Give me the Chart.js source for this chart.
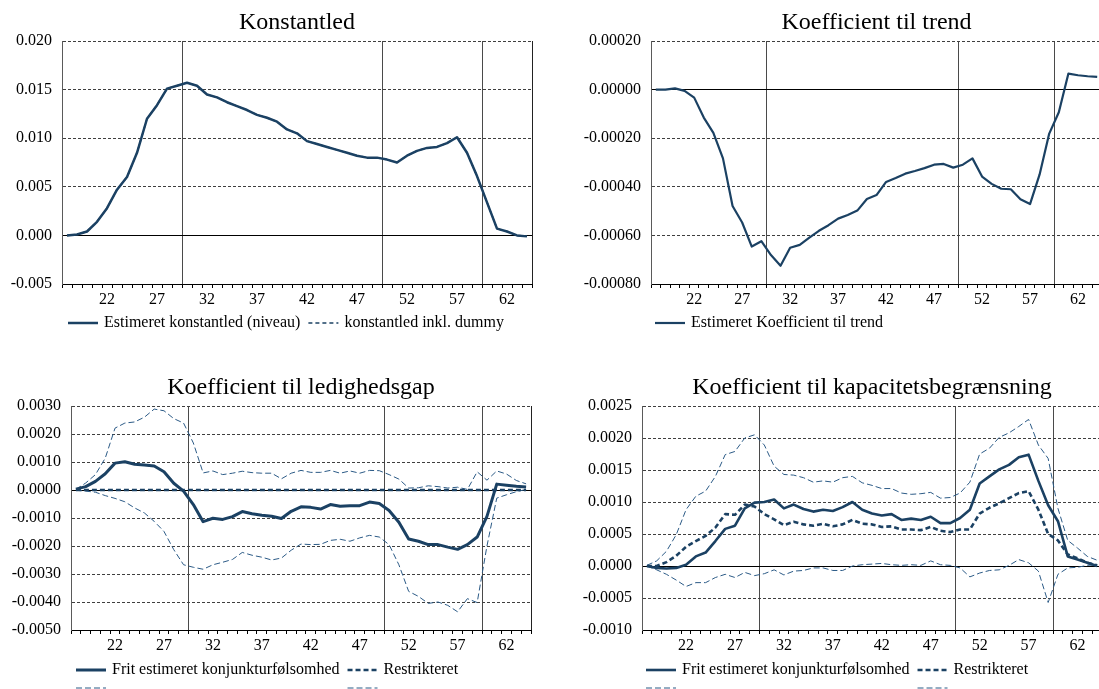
<!DOCTYPE html>
<html lang="da">
<head>
<meta charset="utf-8">
<title>Konstantled og koefficienter</title>
<script src="https://cdn.jsdelivr.net/npm/chart.js@4.4.1/dist/chart.umd.min.js"></script>
<style>
  html, body { margin: 0; padding: 0; background: #fff; overflow: hidden; width: 1099px; height: 689px; }
  canvas { position: absolute; display: block; }
</style>
</head>
<body>
<canvas id="pKonstant" width="549" height="345" style="left:0;top:0"></canvas>
<canvas id="pTrend" width="560" height="345" style="left:549px;top:0"></canvas>
<canvas id="pLedig" width="549" height="360" style="left:0;top:345px"></canvas>
<canvas id="pKapacitet" width="560" height="360" style="left:549px;top:345px"></canvas>
<script>
// ---- x-axis categories and labels ----
const categories = [18, 19, 20, 21, 22, 23, 24, 25, 26, 27, 28, 29, 30, 31, 32, 33, 34, 35, 36, 37,
  38, 39, 40, 41, 42, 43, 44, 45, 46, 47, 48, 49, 50, 51, 52, 53, 54, 55, 56, 57,
  58, 59, 60, 61, 62, 63, 64];
const xTickLabels = [22, 27, 32, 37, 42, 47, 52, 57, 62];
// vertical separators are drawn just before these categories
const breakYears = [30, 50, 60];

// ---- y-axis tick values ----
const yTicksKonstant = [-0.005, 0, 0.005, 0.010, 0.015, 0.020];
const yTicksTrend = [-0.0008, -0.0006, -0.0004, -0.0002, 0, 0.0002];
const yTicksLedig = [-0.005, -0.004, -0.003, -0.002, -0.001, 0, 0.001, 0.002, 0.003];
const yTicksKapacitet = [-0.001, -0.0005, 0, 0.0005, 0.001, 0.0015, 0.002, 0.0025];

// ---- Konstantled ----
const konstantledNiveau = [0.0000, 0.0001, 0.0004, 0.0014, 0.0028, 0.0047, 0.0060, 0.0085, 0.0120, 0.0134,
  0.0151, 0.0154, 0.0157, 0.0154, 0.0145, 0.0142, 0.0137, 0.0133, 0.0129, 0.0124,
  0.0121, 0.0117, 0.0109, 0.0105, 0.0097, 0.0094, 0.0091, 0.0088, 0.0085, 0.0082,
  0.0080, 0.0080, 0.0078, 0.0075, 0.0082, 0.0087, 0.0090, 0.0091, 0.0095, 0.0101,
  0.0085, 0.0061, 0.0034, 0.0007, 0.0004, 0.0000, -0.0001];
const konstantledDummy = [0.0000, 0.0001, 0.0004, 0.0014, 0.0028, 0.0047, 0.0060, 0.0085, 0.0120, 0.0134,
  0.0151, 0.0154, 0.0157, 0.0154, 0.0145, 0.0142, 0.0137, 0.0133, 0.0129, 0.0124,
  0.0121, 0.0117, 0.0109, 0.0105, 0.0097, 0.0094, 0.0091, 0.0088, 0.0085, 0.0082,
  0.0080, 0.0080, 0.0078, 0.0075, 0.0082, 0.0087, 0.0090, 0.0091, 0.0095, 0.0101,
  0.0085, 0.0061, 0.0034, 0.0007, 0.0004, 0.0000, -0.0001];

// ---- Koefficient til trend ----
const trendKoef = [0.000000, 0.000000, 0.000005, -0.000005, -0.000033, -0.000115, -0.000178, -0.000283, -0.000479, -0.000547,
  -0.000646, -0.000624, -0.000681, -0.000725, -0.000651, -0.000639, -0.000609, -0.000581, -0.000558, -0.000531,
  -0.000516, -0.000498, -0.000450, -0.000434, -0.000380, -0.000364, -0.000346, -0.000335, -0.000323, -0.000309,
  -0.000306, -0.000321, -0.000309, -0.000283, -0.000358, -0.000388, -0.000408, -0.000410, -0.000451, -0.000471,
  -0.000349, -0.000181, -0.000093, 0.000066, 0.000059, 0.000055, 0.000052];

// ---- Koefficient til ledighedsgap ----
const ledigFri = [0.00003, 0.00012, 0.00031, 0.00058, 0.00096, 0.00101, 0.00092, 0.00089, 0.00086, 0.00065,
  0.00024, -0.00004, -0.00052, -0.00113, -0.00101, -0.00105, -0.00095, -0.00077, -0.00085, -0.00090,
  -0.00094, -0.00102, -0.00076, -0.00060, -0.00062, -0.00068, -0.00052, -0.00058, -0.00056, -0.00056,
  -0.00043, -0.00048, -0.00073, -0.00115, -0.00175, -0.00183, -0.00195, -0.00195, -0.00204, -0.00212,
  -0.00195, -0.00168, -0.00094, 0.00021, 0.00017, 0.00013, 0.00011];
const ledigRestr = [0, 0, 0, 0, 0, 0, 0, 0, 0, 0, 0, 0, 0, 0, 0, 0, 0, 0, 0, 0, 0, 0, 0, 0,
  0, 0, 0, 0, 0, 0, 0, 0, 0, 0, 0, 0, 0, 0, 0, 0, 0, 0, 0, 0, 0, 0, 0];
const ledigOevre = [0.00002, 0.00025, 0.00055, 0.00114, 0.00221, 0.00239, 0.00243, 0.00260, 0.00289, 0.00283,
  0.00255, 0.00239, 0.00168, 0.00061, 0.00068, 0.00055, 0.00060, 0.00067, 0.00062, 0.00060,
  0.00060, 0.00040, 0.00060, 0.00070, 0.00063, 0.00063, 0.00070, 0.00060, 0.00068, 0.00060,
  0.00070, 0.00069, 0.00055, 0.00039, 0.00007, 0.00008, 0.00015, 0.00012, 0.00007, 0.00010,
  0.00002, 0.00065, 0.00035, 0.00068, 0.00057, 0.00034, 0.00022];
const ledigNedre = [-0.00001, -0.00004, -0.00008, -0.00020, -0.00030, -0.00042, -0.00064, -0.00082, -0.00112, -0.00148,
  -0.00213, -0.00267, -0.00276, -0.00283, -0.00267, -0.00258, -0.00248, -0.00223, -0.00233, -0.00240,
  -0.00250, -0.00243, -0.00215, -0.00193, -0.00195, -0.00194, -0.00180, -0.00176, -0.00183, -0.00171,
  -0.00162, -0.00168, -0.00195, -0.00267, -0.00362, -0.00380, -0.00405, -0.00400, -0.00412, -0.00435,
  -0.00388, -0.00402, -0.00200, -0.00029, -0.00017, -0.00006, 0.00002];

// ---- Koefficient til kapacitetsbegrænsning ----
const kapFri = [0.00000, -0.00003, -0.00004, -0.00003, 0.00002, 0.00015, 0.00021, 0.00039, 0.00058, 0.00063,
  0.00090, 0.00099, 0.00100, 0.00104, 0.00090, 0.00096, 0.00089, 0.00085, 0.00088, 0.00086,
  0.00092, 0.00100, 0.00088, 0.00082, 0.00079, 0.00081, 0.00072, 0.00074, 0.00072, 0.00077,
  0.00067, 0.00067, 0.00075, 0.00088, 0.00129, 0.00140, 0.00151, 0.00158, 0.00170, 0.00174,
  0.00133, 0.00095, 0.00070, 0.00015, 0.00010, 0.00005, 0.00000];
const kapRestr = [0.00000, 0.00000, 0.00006, 0.00016, 0.00030, 0.00039, 0.00047, 0.00060, 0.00081, 0.00080,
  0.00096, 0.00093, 0.00081, 0.00073, 0.00064, 0.00069, 0.00065, 0.00063, 0.00066, 0.00062,
  0.00065, 0.00072, 0.00066, 0.00065, 0.00061, 0.00062, 0.00057, 0.00057, 0.00056, 0.00061,
  0.00055, 0.00053, 0.00057, 0.00057, 0.00082, 0.00091, 0.00098, 0.00106, 0.00114, 0.00117,
  0.00088, 0.00050, 0.00040, 0.00018, 0.00012, 0.00005, 0.00001];
const kapOevre = [0.00001, 0.00008, 0.00023, 0.00049, 0.00088, 0.00109, 0.00117, 0.00140, 0.00174, 0.00179,
  0.00200, 0.00205, 0.00189, 0.00156, 0.00143, 0.00142, 0.00138, 0.00131, 0.00133, 0.00131,
  0.00138, 0.00140, 0.00130, 0.00126, 0.00121, 0.00121, 0.00114, 0.00112, 0.00113, 0.00115,
  0.00106, 0.00107, 0.00114, 0.00131, 0.00175, 0.00184, 0.00201, 0.00208, 0.00218, 0.00229,
  0.00189, 0.00168, 0.00090, 0.00040, 0.00028, 0.00015, 0.00009];
const kapNedre = [0.00000, -0.00006, -0.00013, -0.00022, -0.00032, -0.00026, -0.00026, -0.00018, -0.00013, -0.00018,
  -0.00010, -0.00015, -0.00012, -0.00006, -0.00014, -0.00008, -0.00007, -0.00003, -0.00003, -0.00007,
  -0.00007, 0.00000, 0.00002, 0.00003, 0.00004, 0.00002, 0.00001, 0.00002, 0.00001, 0.00008,
  0.00002, 0.00001, -0.00003, -0.00017, -0.00011, -0.00007, -0.00006, 0.00001, 0.00010, 0.00005,
  -0.00008, -0.00057, -0.00013, -0.00003, -0.00002, 0.00001, 0.00002];

// ---- styling ----
const NAVY = '#1b4163';
const BAND = '#2b5a86';
const GRID = '#3f3f3f';
const FONT = '"Liberation Serif", "Times New Roman", serif';

Chart.defaults.font.family = FONT;
Chart.defaults.font.size = 16;
Chart.defaults.color = '#000';

const breakIdx = breakYears.map(y => categories.indexOf(y));

// Title above the plot area and an Excel-style legend below it
const panelDecor = {
  id: 'panelDecor',
  afterDraw(chart, args, opts) {
    const { ctx, chartArea: a } = chart;
    ctx.save();
    ctx.fillStyle = '#000';
    ctx.font = '24px ' + FONT;
    ctx.textAlign = 'center';
    ctx.textBaseline = 'alphabetic';
    ctx.fillText(opts.title, (a.left + a.right) / 2, a.top - 12);

    ctx.font = '16px ' + FONT;
    ctx.textAlign = 'left';
    const cols = [];
    let x = opts.x;
    chart.data.datasets.forEach(ds => {
      if (ds.legendRow === undefined) return;
      const lx = ds.legendRow === 0 ? x : cols[ds.legendCol];
      const ly = ds.legendRow === 0 ? opts.y : opts.y2;
      if (ds.legendRow === 0) cols.push(lx);
      ctx.save();
      ctx.strokeStyle = ds.borderColor;
      ctx.lineWidth = ds.borderWidth;
      ctx.setLineDash(ds.borderDash || []);
      ctx.beginPath();
      ctx.moveTo(lx, ly);
      ctx.lineTo(lx + 30, ly);
      ctx.stroke();
      ctx.restore();
      if (ds.label) {
        ctx.fillText(ds.label, lx + 36, ly + 4);
        if (ds.legendRow === 0) x = lx + 36 + ctx.measureText(ds.label).width + 8;
      }
    });
    ctx.restore();
  }
};

function fmt(v, d) {
  const r = Math.abs(v) < 1e-12 ? 0 : v;
  return r.toFixed(d);
}

function panel(id, o) {
  const canvas = document.getElementById(id);
  const W = canvas.width, H = canvas.height;
  return new Chart(canvas, {
    type: 'line',
    data: { labels: categories, datasets: o.datasets },
    options: {
      responsive: false,
      animation: false,
      devicePixelRatio: 1,
      events: [],
      layout: { padding: { left: 0, top: o.area.top, right: W - o.area.right, bottom: 0 } },
      elements: {
        point: { radius: 0 },
        line: { tension: 0, borderJoinStyle: 'round', borderCapStyle: 'butt' }
      },
      plugins: {
        legend: { display: false },
        title: { display: false },
        tooltip: { enabled: false },
        panelDecor: { title: o.title, x: o.legendX, y: o.legendY, y2: o.legendY2 }
      },
      scales: {
        x: {
          type: 'category',
          offset: true,
          afterFit: s => { s.height = H - o.area.bottom; },
          grid: {
            offset: true,
            drawOnChartArea: true,
            drawTicks: true,
            tickLength: 4,
            lineWidth: 1,
            tickColor: '#000',
            color: c => c.type !== 'tick' ? '#222'
              : (breakIdx.includes(c.index) ? '#4a4a4a' : 'rgba(0,0,0,0)')
          },
          border: { display: true, color: '#000', width: 1 },
          ticks: {
            autoSkip: false, maxRotation: 0, minRotation: 0, padding: 2,
            callback: (v, i) => xTickLabels.includes(categories[i]) ? String(categories[i]) : ''
          }
        },
        y: {
          min: o.yTicks[0],
          max: o.yTicks[o.yTicks.length - 1],
          afterBuildTicks: s => { s.ticks = o.yTicks.map(v => ({ value: v })); },
          afterFit: s => { s.width = o.area.left; },
          grid: {
            drawTicks: false,
            lineWidth: 1,
            color: c => (c.tick && c.tick.value === 0) ? '#000' : GRID
          },
          border: {
            display: true, color: '#5a5a5a', width: 1,
            dash: c => (c.tick && c.tick.value === 0) ? [] : [3, 2]
          },
          ticks: { padding: 10, autoSkip: false, callback: v => fmt(v, o.decimals) }
        }
      }
    },
    plugins: [panelDecor]
  });
}

panel('pKonstant', {
  title: 'Konstantled',
  area: { left: 62, top: 41, right: 532, bottom: 284 },
  yTicks: yTicksKonstant, decimals: 3,
  legendX: 68, legendY: 323, legendY2: 999,
  datasets: [
    { label: 'Estimeret konstantled (niveau)', data: konstantledNiveau,
      borderColor: NAVY, borderWidth: 2.5, legendRow: 0 },
    { label: 'konstantled inkl. dummy', data: konstantledDummy,
      borderColor: NAVY, borderWidth: 1.5, borderDash: [4, 3], legendRow: 0 }
  ]
});

panel('pTrend', {
  title: 'Koefficient til trend',
  area: { left: 102, top: 41, right: 553, bottom: 284 },
  yTicks: yTicksTrend, decimals: 5,
  legendX: 106, legendY: 323, legendY2: 999,
  datasets: [
    { label: 'Estimeret Koefficient til trend', data: trendKoef,
      borderColor: NAVY, borderWidth: 2.2, legendRow: 0 }
  ]
});

panel('pLedig', {
  title: 'Koefficient til ledighedsgap',
  area: { left: 71, top: 61, right: 531, bottom: 285 },
  yTicks: yTicksLedig, decimals: 4,
  legendX: 76, legendY: 325, legendY2: 343,
  datasets: [
    { label: 'Frit estimeret konjunkturfølsomhed', data: ledigFri,
      borderColor: NAVY, borderWidth: 3, legendRow: 0 },
    { label: 'Restrikteret', data: ledigRestr,
      borderColor: NAVY, borderWidth: 2.5, borderDash: [5, 3], legendRow: 0 },
    { label: '', data: ledigOevre,
      borderColor: BAND, borderWidth: 1, borderDash: [6, 3], legendRow: 1, legendCol: 0 },
    { label: '', data: ledigNedre,
      borderColor: BAND, borderWidth: 1, borderDash: [6, 3], legendRow: 1, legendCol: 1 }
  ]
});

panel('pKapacitet', {
  title: 'Koefficient til kapacitetsbegrænsning',
  area: { left: 93, top: 61, right: 553, bottom: 285 },
  yTicks: yTicksKapacitet, decimals: 4,
  legendX: 97, legendY: 325, legendY2: 343,
  datasets: [
    { label: 'Frit estimeret konjunkturfølsomhed', data: kapFri,
      borderColor: NAVY, borderWidth: 2.6, legendRow: 0 },
    { label: 'Restrikteret', data: kapRestr,
      borderColor: NAVY, borderWidth: 2.6, borderDash: [5, 3], legendRow: 0 },
    { label: '', data: kapOevre,
      borderColor: BAND, borderWidth: 1, borderDash: [6, 3], legendRow: 1, legendCol: 0 },
    { label: '', data: kapNedre,
      borderColor: BAND, borderWidth: 1, borderDash: [6, 3], legendRow: 1, legendCol: 1 }
  ]
});
</script>
</body>
</html>
